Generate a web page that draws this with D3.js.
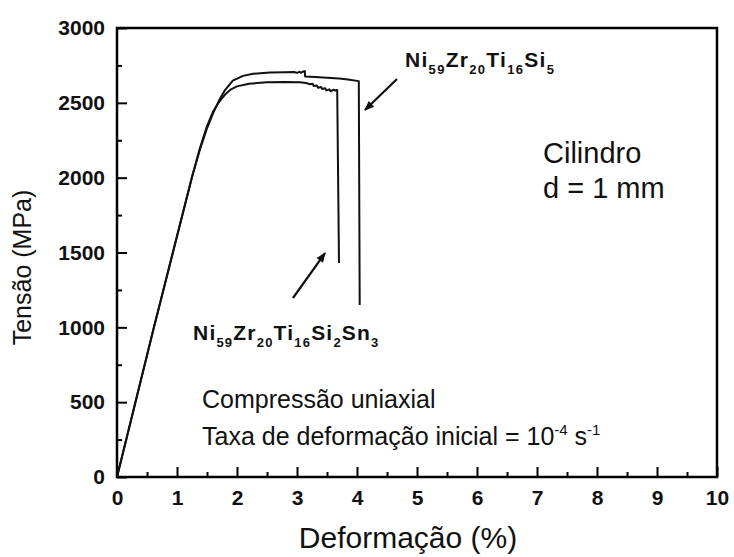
<!DOCTYPE html>
<html>
<head>
<meta charset="utf-8">
<script src="https://cdn.jsdelivr.net/npm/d3@7"></script>
<style>
  body { margin: 0; background: #fff; }
  svg { display: block; }
</style>
</head>
<body>
<svg id="chart" width="734" height="557"></svg>
<script>
// Axis ticks
const xTicks = [0, 1, 2, 3, 4, 5, 6, 7, 8, 9, 10];
const xMinorTicks = [0.5, 1.5, 2.5, 3.5, 4.5, 5.5, 6.5, 7.5, 8.5, 9.5];
const yTicks = [0, 500, 1000, 1500, 2000, 2500, 3000];
const yMinorTicks = [250, 750, 1250, 1750, 2250, 2750];

// Ni59Zr20Ti16Si5 stress-strain curve (strain %, stress MPa)
const strainSi5 = [0, 0.6, 1.25, 1.38, 1.5, 1.6, 1.7, 1.8, 1.93, 2.1, 2.27, 2.55, 2.8, 2.95, 3.0, 3.04, 3.07, 3.1, 3.13, 3.135, 3.3, 3.5, 3.7, 3.85, 4.03, 4.045];
const stressSi5 = [0, 975, 2005, 2185, 2330, 2430, 2515, 2585, 2648, 2680, 2694, 2703, 2705, 2706, 2700, 2707, 2701, 2709, 2712, 2676, 2673, 2668, 2662, 2656, 2645, 1150];

// Ni59Zr20Ti16Si2Sn3 stress-strain curve (strain %, stress MPa)
const strainSn3 = [0, 0.6, 1.25, 1.38, 1.5, 1.6, 1.7, 1.8, 1.9, 2.0, 2.2, 2.5, 2.8, 3.05, 3.15, 3.22, 3.26, 3.28, 3.33, 3.35, 3.4, 3.42, 3.47, 3.49, 3.54, 3.56, 3.61, 3.63, 3.67, 3.70];
const stressSn3 = [0, 975, 2005, 2195, 2345, 2440, 2505, 2555, 2590, 2610, 2628, 2637, 2640, 2637, 2632, 2624, 2628, 2612, 2616, 2601, 2606, 2592, 2598, 2583, 2590, 2577, 2588, 2582, 2586, 1430];

// Text annotations (data units)
const compositionSi5 = [["Ni", "59"], ["Zr", "20"], ["Ti", "16"], ["Si", "5"]];
const compositionSn3 = [["Ni", "59"], ["Zr", "20"], ["Ti", "16"], ["Si", "2"], ["Sn", "3"]];
const arrowSi5 = { from: [4.667, 2659], to: [4.133, 2452] };
const arrowSn3 = { from: [2.933, 1196], to: [3.467, 1496] };
const labelSi5At = [4.8, 2739];
const labelSn3At = [1.267, 915];
const specimenLines = ["Cilindro", "d = 1 mm"];
const specimenAt = [[7.1, 2098], [7.1, 1864]];
const testAt = [[1.417, 461], [1.417, 214]];

const svg = d3.select("#chart");
const margin = { left: 117, top: 28, right: 17, bottom: 80 };
const W = 734, H = 557;

svg.append("rect").attr("width", W).attr("height", H).attr("fill", "#fff");

const x = d3.scaleLinear().domain([0, 10]).range([margin.left, W - margin.right]);
const y = d3.scaleLinear().domain([0, 3000]).range([H - margin.bottom, margin.top]);

const font = "'Liberation Sans', Arial, Helvetica, sans-serif";

// Minor ticks (inward)
svg.append("g")
  .attr("transform", `translate(0,${y(0)})`)
  .call(d3.axisBottom(x).tickValues(xMinorTicks).tickSize(-5).tickFormat(""))
  .call(g => g.select(".domain").remove())
  .call(g => g.selectAll("line").attr("stroke", "#000").attr("stroke-width", 2));
svg.append("g")
  .attr("transform", `translate(${x(0)},0)`)
  .call(d3.axisLeft(y).tickValues(yMinorTicks).tickSize(-5).tickFormat(""))
  .call(g => g.select(".domain").remove())
  .call(g => g.selectAll("line").attr("stroke", "#000").attr("stroke-width", 2));

// Major ticks with labels
svg.append("g")
  .attr("transform", `translate(0,${y(0)})`)
  .call(d3.axisBottom(x).tickValues(xTicks).tickSize(-10).tickSizeOuter(0).tickPadding(13).tickFormat(d3.format("d")))
  .call(g => g.select(".domain").remove())
  .call(g => g.selectAll("line").attr("stroke", "#000").attr("stroke-width", 2))
  .call(g => g.selectAll("text").attr("fill", "#111").style("font-family", font).style("font-weight", "bold").style("font-size", "21px"));
svg.append("g")
  .attr("transform", `translate(${x(0)},0)`)
  .call(d3.axisLeft(y).tickValues(yTicks).tickSize(-10).tickSizeOuter(0).tickPadding(12).tickFormat(d3.format("d")))
  .call(g => g.select(".domain").remove())
  .call(g => g.selectAll("line").attr("stroke", "#000").attr("stroke-width", 2))
  .call(g => g.selectAll("text").attr("fill", "#111").style("font-family", font).style("font-weight", "bold").style("font-size", "21px"));

// Plot frame
svg.append("rect")
  .attr("x", x(0)).attr("y", y(3000))
  .attr("width", x(10) - x(0)).attr("height", y(0) - y(3000))
  .attr("fill", "none").attr("stroke", "#000").attr("stroke-width", 2.5);

// Curves
const line = d3.line().x(d => x(d[0])).y(d => y(d[1])).curve(d3.curveLinear);
const seriesSi5 = strainSi5.map((s, i) => [s, stressSi5[i]]);
const seriesSn3 = strainSn3.map((s, i) => [s, stressSn3[i]]);
[seriesSn3, seriesSi5].forEach(data => {
  svg.append("path").datum(data)
    .attr("d", line)
    .attr("fill", "none").attr("stroke", "#111")
    .attr("stroke-width", 2).attr("stroke-linejoin", "round");
});

// Arrow heads
svg.append("defs").append("marker")
  .attr("id", "arrowhead")
  .attr("viewBox", "0 0 10 10").attr("refX", 9).attr("refY", 5)
  .attr("markerUnits", "userSpaceOnUse")
  .attr("markerWidth", 12).attr("markerHeight", 10)
  .attr("orient", "auto")
  .append("path").attr("d", "M0,1 L10,5 L0,9 Z").attr("fill", "#111");

[arrowSi5, arrowSn3].forEach(a => {
  svg.append("line")
    .attr("x1", x(a.from[0])).attr("y1", y(a.from[1]))
    .attr("x2", x(a.to[0])).attr("y2", y(a.to[1]))
    .attr("stroke", "#111").attr("stroke-width", 2.2)
    .attr("marker-end", "url(#arrowhead)");
});

// Composition labels with subscripts
function composition(parts, at, spacing) {
  const t = svg.append("text")
    .attr("x", x(at[0])).attr("y", y(at[1]))
    .attr("fill", "#111")
    .style("font-family", font).style("font-weight", "bold")
    .style("letter-spacing", spacing + "px");
  parts.forEach((p, i) => {
    t.append("tspan").attr("dy", i === 0 ? 0 : -7).style("font-size", "21px").text(p[0]);
    t.append("tspan").attr("dy", 7).style("font-size", "13px").text(p[1]);
  });
}
composition(compositionSi5, labelSi5At, 1.3);
composition(compositionSn3, labelSn3At, 1.2);

// Specimen description
specimenLines.forEach((s, i) => {
  svg.append("text")
    .attr("x", x(specimenAt[i][0])).attr("y", y(specimenAt[i][1]))
    .attr("fill", "#111")
    .style("font-family", font).style("font-size", "29px")
    .text(s);
});

// Test conditions
svg.append("text")
  .attr("x", x(testAt[0][0])).attr("y", y(testAt[0][1]))
  .attr("fill", "#111")
  .style("font-family", font).style("font-size", "25px")
  .text("Compressão uniaxial");
const rate = svg.append("text")
  .attr("x", x(testAt[1][0])).attr("y", y(testAt[1][1]))
  .attr("fill", "#111")
  .style("font-family", font).style("font-size", "25px");
rate.append("tspan").text("Taxa de deformação inicial = 10");
rate.append("tspan").attr("dy", -10).style("font-size", "15px").text("-4");
rate.append("tspan").attr("dy", 10).text(" s");
rate.append("tspan").attr("dy", -10).style("font-size", "15px").text("-1");

// Axis titles
svg.append("text")
  .attr("x", (x(0) + x(10)) / 2 - 9).attr("y", 548)
  .attr("text-anchor", "middle").attr("fill", "#111")
  .style("font-family", font).style("font-size", "30px")
  .text("Deformação (%)");
svg.append("text")
  .attr("transform", `translate(31,${(y(0) + y(3000)) / 2 + 15}) rotate(-90)`)
  .attr("text-anchor", "middle").attr("fill", "#111")
  .style("font-family", font).style("font-size", "25px")
  .text("Tensão (MPa)");
</script>
</body>
</html>
